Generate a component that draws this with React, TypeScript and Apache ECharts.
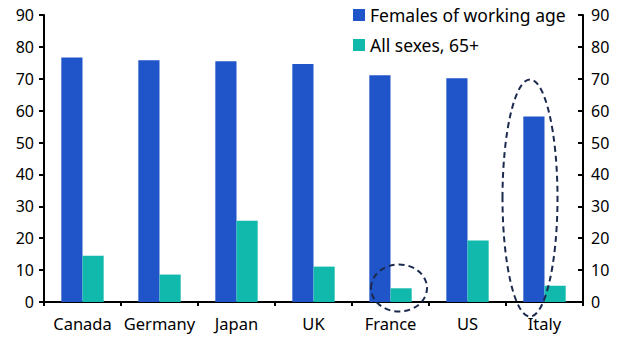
import React, { useEffect, useRef } from "react";
import * as echarts from "echarts";

const categories = ["Canada", "Germany", "Japan", "UK", "France", "US", "Italy"];
const femalesWorkingAge = [76.7, 75.8, 75.5, 74.6, 71.1, 70.2, 58.2];
const allSexes65 = [14.5, 8.6, 25.5, 11.1, 4.3, 19.3, 5.1];
const seriesNames = ["Females of working age", "All sexes, 65+"];

const FONT = "Noto Sans";

export default function App() {
  const ref = useRef<HTMLDivElement>(null);
  useEffect(() => {
    document.body.style.margin = "0";
    const chart = echarts.init(ref.current!, null, { renderer: "svg" });
    const axisCommon = {
      type: "value" as const,
      min: 0,
      max: 90,
      interval: 10,
      splitLine: { show: false },
      axisLine: { show: true, lineStyle: { color: "#000", width: 2 } },
      axisTick: { show: true, length: 5, lineStyle: { color: "#000", width: 2 } },
      axisLabel: { color: "#000", fontSize: 16, fontFamily: FONT },
    };
    chart.setOption({
      animation: false,
      textStyle: { fontFamily: FONT },
      grid: { left: 44, right: 47, top: 15, bottom: 53 },
      legend: {
        orient: "vertical",
        left: 348,
        top: 1,
        itemWidth: 12,
        itemHeight: 12,
        itemGap: 12,
        icon: "rect",
        textStyle: { fontSize: 17.5, color: "#000", fontFamily: FONT },
        data: seriesNames,
      },
      xAxis: {
        type: "category",
        data: categories,
        axisLine: { show: true, lineStyle: { color: "#000", width: 2 } },
        axisTick: { show: true, length: 4, lineStyle: { color: "#000", width: 2 } },
        axisLabel: { color: "#000", fontSize: 16.5, fontFamily: FONT, margin: 13, interval: 0 },
      },
      yAxis: [
        { ...axisCommon, position: "left", axisLabel: { ...axisCommon.axisLabel, margin: 10 } },
        {
          ...axisCommon,
          position: "right",
          axisTick: { ...axisCommon.axisTick, inside: true },
          axisLabel: { ...axisCommon.axisLabel, margin: 8 },
        },
      ],
      series: [
        {
          name: seriesNames[0],
          type: "bar",
          data: femalesWorkingAge,
          itemStyle: { color: "#2055CA" },
          barGap: "0%",
          barCategoryGap: "45%",
        },
        {
          name: seriesNames[1],
          type: "bar",
          data: allSexes65,
          itemStyle: { color: "#10B9AB" },
        },
      ],
      graphic: [
        {
          type: "ellipse",
          shape: { cx: 399, cy: 288, rx: 28, ry: 23.5 },
          style: { fill: "none", stroke: "#1B2A4E", lineWidth: 2, lineDash: [6, 4] },
          z: 100,
        },
        {
          type: "ellipse",
          shape: { cx: 530, cy: 198, rx: 27.5, ry: 118.5 },
          style: { fill: "none", stroke: "#1B2A4E", lineWidth: 2, lineDash: [6, 4] },
          z: 100,
        },
      ],
    });
    return () => chart.dispose();
  }, []);
  return <div ref={ref} style={{ width: 630, height: 355 }} />;
}
